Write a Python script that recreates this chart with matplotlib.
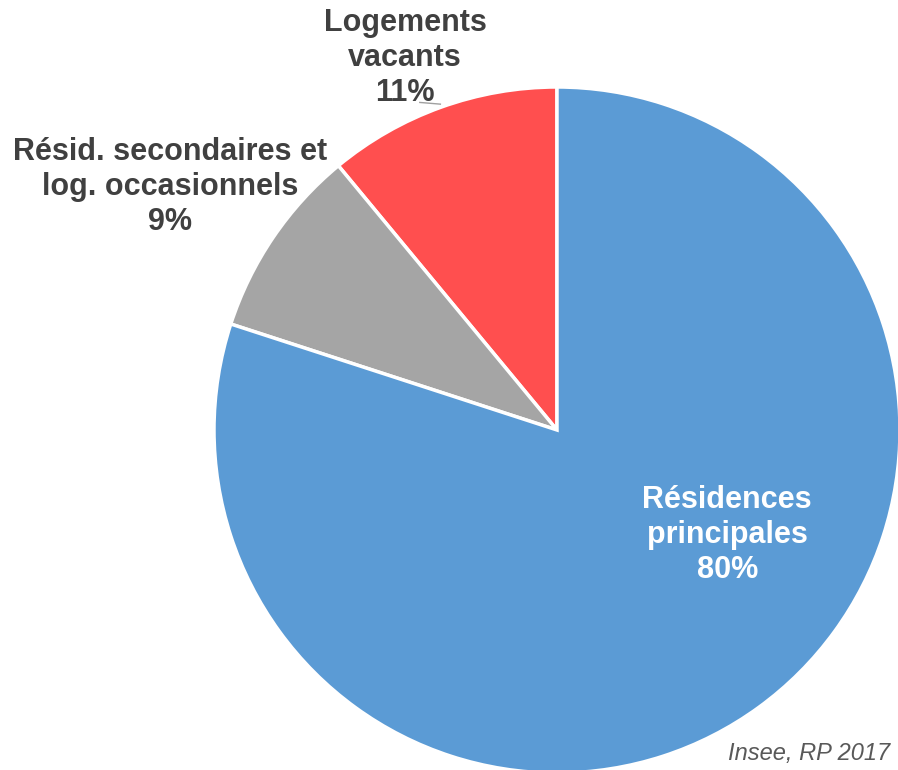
import matplotlib.pyplot as plt

categories = ["Logements\nvacants", "Résid. secondaires et\nlog. occasionnels", "Résidences\nprincipales"]
shares = [11, 9, 80]
colors = ["#FF4F4F", "#A5A5A5", "#5B9BD5"]
label_colors = ["#404040", "#404040", "#FFFFFF"]
label_pos = [(-0.443, 1.085), (-1.128, 0.708), (0.496, -0.306)]

plt.rcParams['font.family'] = ['Liberation Sans', 'DejaVu Sans']

fig = plt.figure(figsize=(8.98, 7.7), dpi=100)
ax = fig.add_axes([(557 - 343) / 898, (340 - 343) / 770, 686 / 898, 686 / 770])

ax.pie(shares, colors=colors, startangle=90, counterclock=True,
       wedgeprops=dict(edgecolor="white", linewidth=2.5))
ax.set_xlim(-1, 1)
ax.set_ylim(-1, 1)

for name, val, (x, y), c in zip(categories, shares, label_pos, label_colors):
    ax.text(x, y, f"{name}\n{val}%", ha="center", va="center", fontsize=22,
            fontweight="bold", color=c, linespacing=1.22, clip_on=False)

# petit trait de rappel sous "11%"
ax.plot([-0.40, -0.34], [0.955, 0.95], color="#A0A0A0", lw=1, clip_on=False)

fig.text(728 / 898, 1 - 742 / 770, "Insee, RP 2017", fontsize=17, style="italic",
         color="#595959", va="top", ha="left")

fig.savefig("out.png", dpi=100)
